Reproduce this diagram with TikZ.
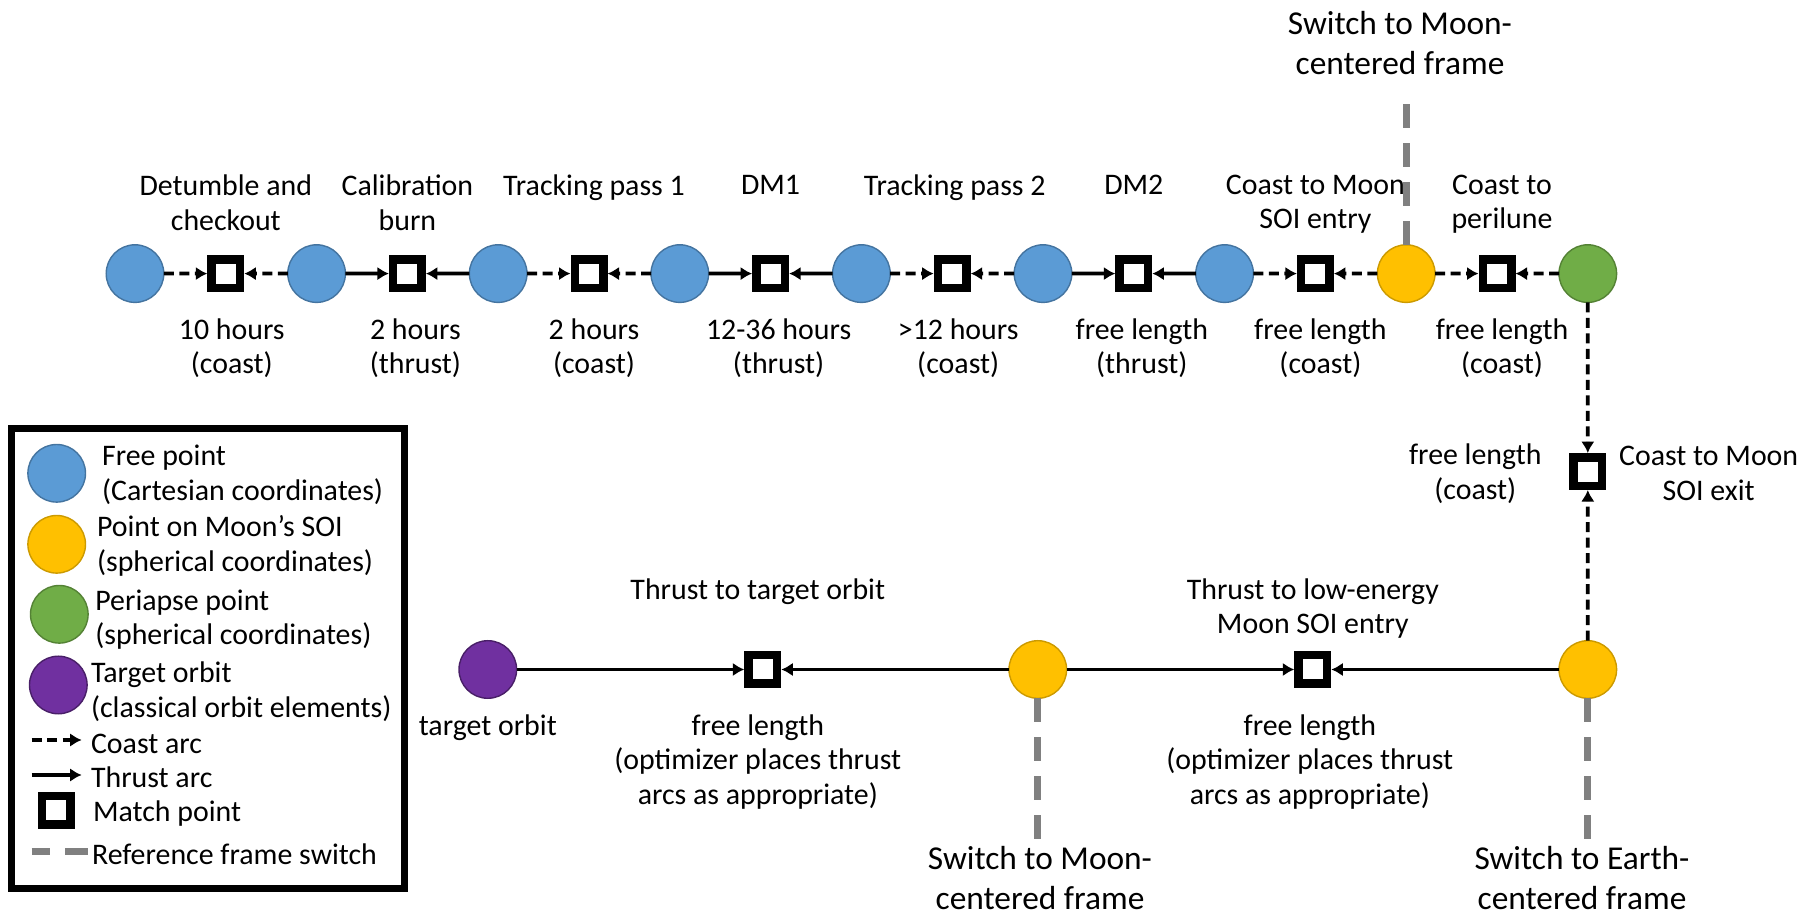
\documentclass[tikz,border=0pt]{standalone}
\usepackage{fontspec}
\setmainfont{Carlito}
\usetikzlibrary{arrows.meta, positioning, calc}
\definecolor{freeblue}{HTML}{5B9BD5}
\definecolor{soiyellow}{HTML}{FFC000}
\definecolor{perigreen}{HTML}{70AD47}
\definecolor{orbitpurple}{HTML}{7030A0}
\definecolor{switchgray}{HTML}{808080}

\begin{document}
\begin{tikzpicture}[
    node distance=2.48cm,
    pt/.style={circle, minimum size=1.152cm, inner sep=0pt, outer sep=0pt, line width=0.8pt},
    freept/.style={pt, fill=freeblue, draw=freeblue!75!black},
    soipt/.style={pt, fill=soiyellow, draw=soiyellow!80!black},
    peript/.style={pt, fill=perigreen, draw=perigreen!75!black},
    orbitpt/.style={pt, fill=orbitpurple, draw=orbitpurple!65!black},
    matchpt/.style={draw, fill=white, line width=0.17cm, minimum size=0.57cm, inner sep=0pt},
    lbl/.style={align=center, inner sep=0pt, font=\fontsize{17pt}{19.7pt}\selectfont},
    keytxt/.style={lbl, align=left, anchor=west},
    bigtxt/.style={align=center, inner sep=0pt, font=\fontsize{19pt}{22.5pt}\selectfont},
    coast/.style={-{Latex[length=0.23cm, width=0.27cm]}, line width=0.075cm, dash pattern=on 0.2cm off 0.11cm},
    thrust/.style={-{Latex[length=0.23cm, width=0.27cm]}, line width=0.075cm},
    switchline/.style={line width=0.14cm, switchgray, dash pattern=on 0.48cm off 0.3cm}
  ]
    \useasboundingbox (0,0) rectangle (36.2,18.36);

    % Earth-centered part of the transfer
    \node[freept] (fp1) at (2.70,12.888) {};
    \node[freept, right=of fp1] (fp2) {};
    \node[freept, right=of fp2] (fp3) {};
    \node[freept, right=of fp3] (fp4) {};
    \node[freept, right=of fp4] (fp5) {};
    \node[freept, right=of fp5] (fp6) {};
    \node[freept, right=of fp6] (fp7) {};
    \node[soipt, right=of fp7] (soi1) {};
    \node[peript, right=of soi1] (peri) {};

    \node[matchpt] (mp1) at ($(fp1)!0.5!(fp2)$) {};
    \node[matchpt] (mp2) at ($(fp2)!0.5!(fp3)$) {};
    \node[matchpt] (mp3) at ($(fp3)!0.5!(fp4)$) {};
    \node[matchpt] (mp4) at ($(fp4)!0.5!(fp5)$) {};
    \node[matchpt] (mp5) at ($(fp5)!0.5!(fp6)$) {};
    \node[matchpt] (mp6) at ($(fp6)!0.5!(fp7)$) {};
    \node[matchpt] (mp7) at ($(fp7)!0.5!(soi1)$) {};
    \node[matchpt] (mp8) at ($(soi1)!0.5!(peri)$) {};

    \draw[coast] (fp1) -- (mp1);
    \draw[coast] (fp2) -- (mp1);
    \draw[thrust] (fp2) -- (mp2);
    \draw[thrust] (fp3) -- (mp2);
    \draw[coast] (fp3) -- (mp3);
    \draw[coast] (fp4) -- (mp3);
    \draw[thrust] (fp4) -- (mp4);
    \draw[thrust] (fp5) -- (mp4);
    \draw[coast] (fp5) -- (mp5);
    \draw[coast] (fp6) -- (mp5);
    \draw[thrust] (fp6) -- (mp6);
    \draw[thrust] (fp7) -- (mp6);
    \draw[coast] (fp7) -- (mp7);
    \draw[coast] (soi1) -- (mp7);
    \draw[coast] (soi1) -- (mp8);
    \draw[coast] (peri) -- (mp8);

    \node[lbl, anchor=north] (la1) at ($(mp1)+(0,1.98)$) {Detumble and\\checkout};
    \node[lbl, anchor=north] (la2) at ($(mp2)+(0,1.98)$) {Calibration\\burn};
    \node[lbl, anchor=north] (la3) at ($(mp3)+(0.1,1.98)$) {Tracking pass 1};
    \node[lbl, anchor=north] (la4) at ($(mp4)+(0,1.98)$) {DM1};
    \node[lbl, anchor=north] (la5) at ($(mp5)+(0.05,1.98)$) {Tracking pass 2};
    \node[lbl, anchor=north] (la6) at ($(mp6)+(0,1.98)$) {DM2};
    \node[lbl, anchor=north] (la7) at ($(mp7)+(0,1.98)$) {Coast to Moon\\SOI entry};
    \node[lbl, anchor=north] (la8) at ($(mp8)+(0.1,1.98)$) {Coast to\\perilune};

    \node[lbl, anchor=north] (lb1) at ($(mp1)+(0.12,-0.89)$) {10 hours\\(coast)};
    \node[lbl, anchor=north] (lb2) at ($(mp2)+(0.16,-0.89)$) {2 hours\\(thrust)};
    \node[lbl, anchor=north] (lb3) at ($(mp3)+(0.1,-0.89)$) {2 hours\\(coast)};
    \node[lbl, anchor=north] (lb4) at ($(mp4)+(0.16,-0.89)$) {12-36 hours\\(thrust)};
    \node[lbl, anchor=north] (lb5) at ($(mp5)+(0.12,-0.89)$) {>12 hours\\(coast)};
    \node[lbl, anchor=north] (lb6) at ($(mp6)+(0.16,-0.89)$) {free length\\(thrust)};
    \node[lbl, anchor=north] (lb7) at ($(mp7)+(0.1,-0.89)$) {free length\\(coast)};
    \node[lbl, anchor=north] (lb8) at ($(mp8)+(0.1,-0.89)$) {free length\\(coast)};

    % leaving the Moon and coming back
    \node[soipt, below=6.766cm of peri] (soi2) {};
    \node[matchpt] (mp9) at ($(peri)!0.5!(soi2)$) {};
    \draw[coast] (peri) -- (mp9);
    \draw[coast] (soi2) -- (mp9);
    \node[lbl, left=0.55cm of mp9, yshift=-0.04cm] (lv1) {free length\\(coast)};
    \node[lbl, right=0.25cm of mp9, yshift=-0.04cm] (lv2) {Coast to Moon\\SOI exit};

    \node[soipt, left=9.848cm of soi2] (soi3) {};
    \node[orbitpt, left=9.848cm of soi3] (tgt) {};
    \node[matchpt] (mp10) at ($(tgt)!0.5!(soi3)$) {};
    \node[matchpt] (mp11) at ($(soi3)!0.5!(soi2)$) {};
    \draw[thrust] (tgt) -- (mp10);
    \draw[thrust] (soi3) -- (mp10);
    \draw[thrust] (soi3) -- (mp11);
    \draw[thrust] (soi2) -- (mp11);

    \node[lbl, anchor=north] (la10) at ($(mp10)+(-0.1,1.83)$) {Thrust to target orbit};
    \node[lbl, anchor=north] (la11) at ($(mp11)+(0,1.83)$) {Thrust to low-energy\\Moon SOI entry};
    \node[lbl, anchor=north] (lb10) at ($(mp10)+(-0.1,-0.89)$) {free length\\(optimizer places thrust\\arcs as appropriate)};
    \node[lbl, anchor=north] (lb11) at ($(mp11)+(-0.06,-0.89)$) {free length\\(optimizer places thrust\\arcs as appropriate)};
    \node[lbl, anchor=north] (ltgt) at ($(tgt)+(0,-0.89)$) {target orbit};

    % reference frame switches
    \node[bigtxt, anchor=north] (sw1) at (28.0,18.14) {Switch to Moon-\\centered frame};
    \node[bigtxt, anchor=north] (sw2) at (20.8,1.44) {Switch to Moon-\\centered frame};
    \node[bigtxt, anchor=north] (sw3) at (31.64,1.44) {Switch to Earth-\\centered frame};
    \coordinate (sw1end) at ($(soi1.north)+(0,2.82)$);
    \coordinate (sw2end) at ($(soi3.south)+(0,-2.82)$);
    \coordinate (sw3end) at ($(soi2.south)+(0,-2.82)$);
    \draw[switchline] (soi1.north) -- (sw1end);
    \draw[switchline] (soi3.south) -- (sw2end);
    \draw[switchline] (soi2.south) -- (sw3end);

    % legend
    \draw[line width=0.14cm] (0.23,0.59) rectangle (8.09,9.79);
    \node[freept] (kfree) at (1.134,8.894) {};
    \node[soipt] (ksoi) at (1.134,7.474) {};
    \node[peript] (kperi) at (1.186,6.074) {};
    \node[orbitpt] (korbit) at (1.166,4.66) {};
    \node[matchpt] (kmatch) at (1.12,2.15) {};
    \node[keytxt] (tfree) at (2.034,8.86) {Free point\\(Cartesian coordinates)};
    \node[keytxt] (tsoi) at (1.934,7.44) {Point on Moon’s SOI\\(spherical coordinates)};
    \node[keytxt] (tperi) at (1.9,5.97) {Periapse point\\(spherical coordinates)};
    \node[keytxt] (torbit) at (1.814,4.53) {Target orbit\\(classical orbit elements)};
    \node[keytxt] (tcoast) at (1.814,3.48) {Coast arc};
    \node[keytxt] (tthrust) at (1.814,2.82) {Thrust arc};
    \node[keytxt] (tmatch) at (1.854,2.08) {Match point};
    \node[keytxt] (tswitch) at (1.834,1.28) {Reference frame switch};
    \draw[coast] (0.634,3.56) -- (1.634,3.56);
    \draw[thrust] (0.634,2.86) -- (1.634,2.86);
    \draw[switchline, dash pattern=on 0.37cm off 0.3cm on 0.47cm off 1cm] (0.634,1.326) -- (1.766,1.326);
\end{tikzpicture}
\end{document}
